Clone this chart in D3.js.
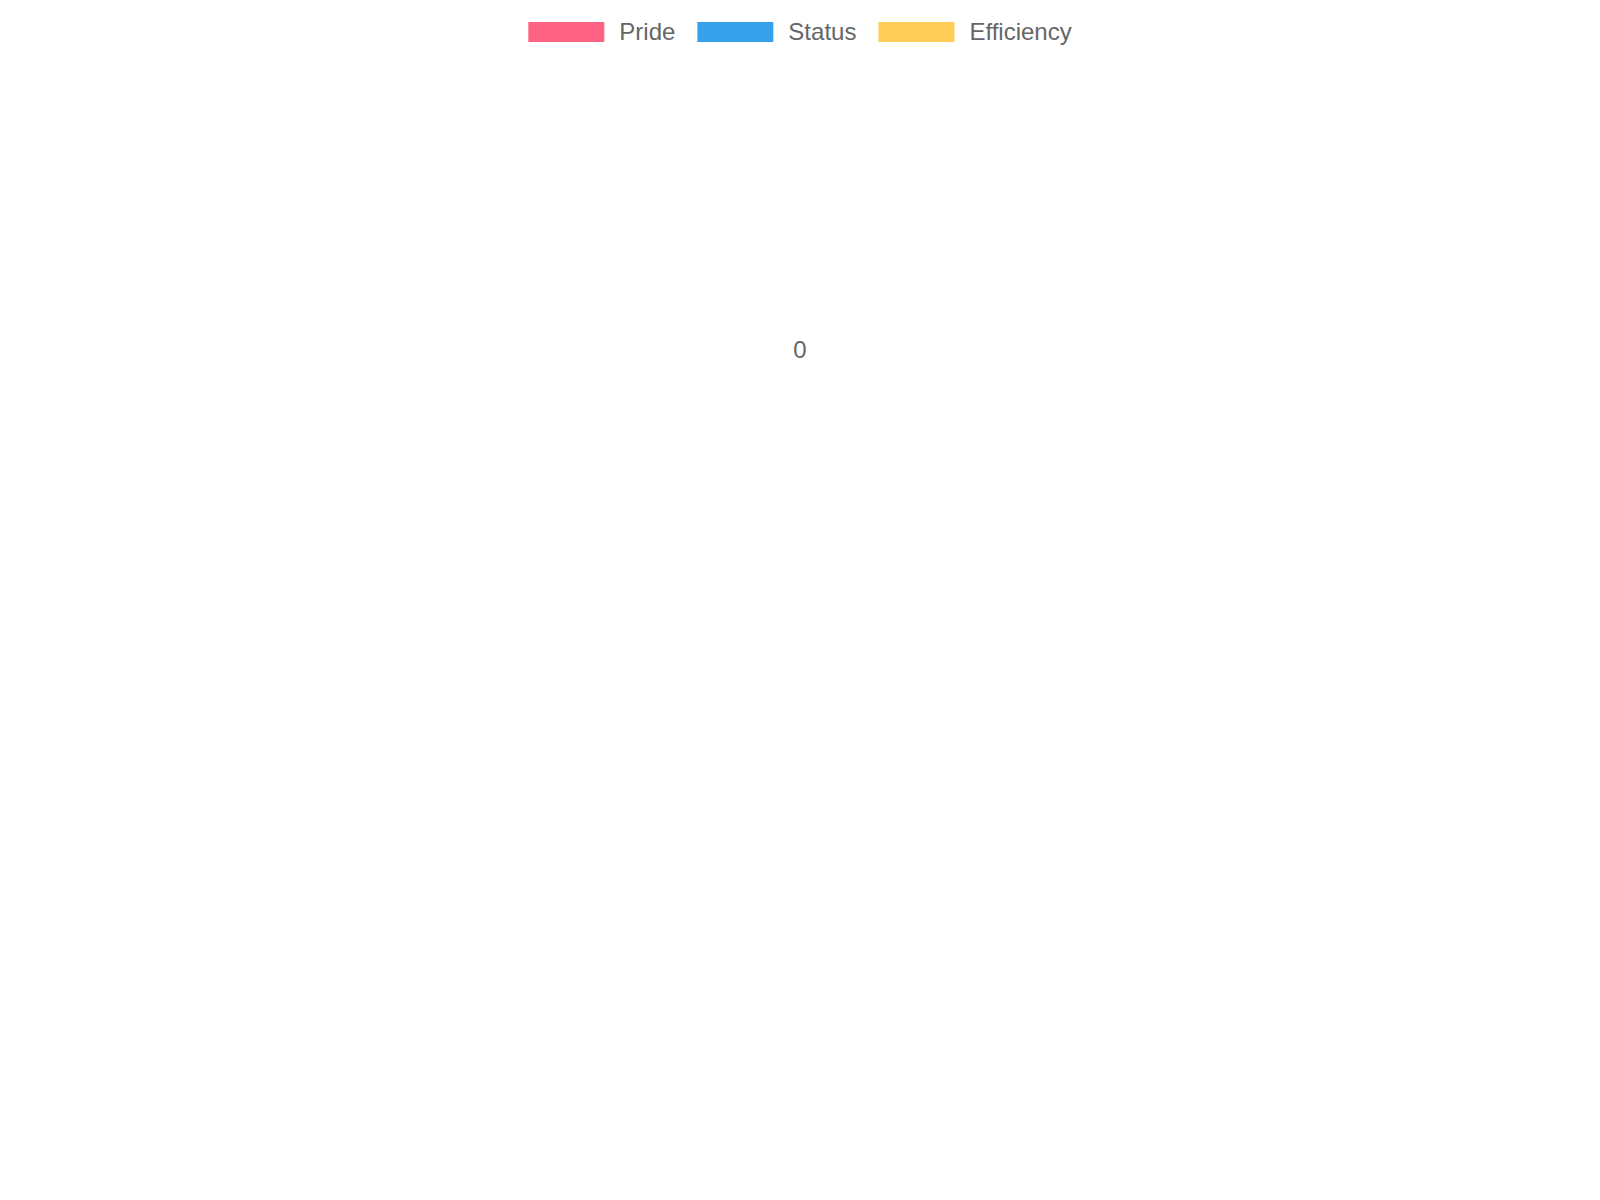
<!DOCTYPE html>
<html>
<head>
<meta charset="utf-8">
<script src="https://cdn.jsdelivr.net/npm/d3@7"></script>
<style>
  body { margin: 0; background: #fff; }
  text { font-family: "Liberation Sans", Arial, Helvetica, sans-serif; }
</style>
</head>
<body>
<div id="chart"></div>
<script>
// radar chart, no axis labels and no values in any series
var labels = [];
var seriesNames = ["Pride", "Status", "Efficiency"];
var seriesColors = ["#ff6384", "#36a2eb", "#ffcd56"];
var prideValues = [];
var statusValues = [];
var efficiencyValues = [];

var width = 1600, height = 1200;
var cx = 800, cy = 350, radius = 300;

var series = [prideValues, statusValues, efficiencyValues].map(function(v, i) {
    return { name: seriesNames[i], color: seriesColors[i], values: v };
});

var svg = d3.select("#chart").append("svg")
    .attr("width", width)
    .attr("height", height);

//
// Radial scale
//
var allValues = d3.merge(series.map(function(s) { return s.values; })).concat([0]);
var lo = d3.min(allValues), hi = d3.max(allValues);
var r = d3.scaleLinear()
    .domain([lo, hi])
    .range([0, radius]);
// a flat domain puts everything at the centre
function rad(d) { return lo === hi ? 0 : r(d); }

var angle = d3.scalePoint()
    .domain(labels)
    .range([0, 2 * Math.PI]);

// series polygons (nothing to draw when empty)
var line = d3.lineRadial()
    .angle(function(d, i) { return angle(labels[i]); })
    .radius(function(d) { return rad(d); })
    .curve(d3.curveLinearClosed);

svg.append("g")
    .attr("transform", "translate(" + cx + "," + cy + ")")
    .selectAll("path")
    .data(series.filter(function(s) { return s.values.length > 0; }))
    .enter().append("path")
    .attr("d", function(s) { return line(s.values); })
    .attr("fill", function(s) { return s.color; })
    .attr("fill-opacity", 0.2)
    .attr("stroke", function(s) { return s.color; })
    .attr("stroke-width", 3);

// tick labels
svg.append("g")
    .selectAll("text")
    .data(r.ticks(5))
    .enter().append("text")
    .attr("x", cx)
    .attr("y", function(d) { return cy + 8 - rad(d); })
    .attr("text-anchor", "middle")
    .attr("fill", "#666")
    .style("font-size", "24px")
    .text(function(d) { return d3.format("")(d); });

//
// Legend
//
var boxW = 76, boxH = 20, textGap = 15, itemGap = 22;
var legend = svg.append("g");
var items = legend.selectAll("g")
    .data(series)
    .enter().append("g");

items.append("rect")
    .attr("y", 22)
    .attr("width", boxW)
    .attr("height", boxH)
    .attr("fill", function(s) { return s.color; });

items.append("text")
    .attr("x", boxW + textGap)
    .attr("y", 40)
    .attr("fill", "#666")
    .style("font-size", "24px")
    .text(function(s) { return s.name; });

var xPos = 0;
items.each(function() {
    var w = boxW + textGap + d3.select(this).select("text").node().getComputedTextLength();
    d3.select(this).attr("transform", "translate(" + xPos + ",0)");
    xPos += w + itemGap;
});
var total = xPos - itemGap;
legend.attr("transform", "translate(" + (width / 2 - total / 2) + ",0)");
</script>
</body>
</html>
